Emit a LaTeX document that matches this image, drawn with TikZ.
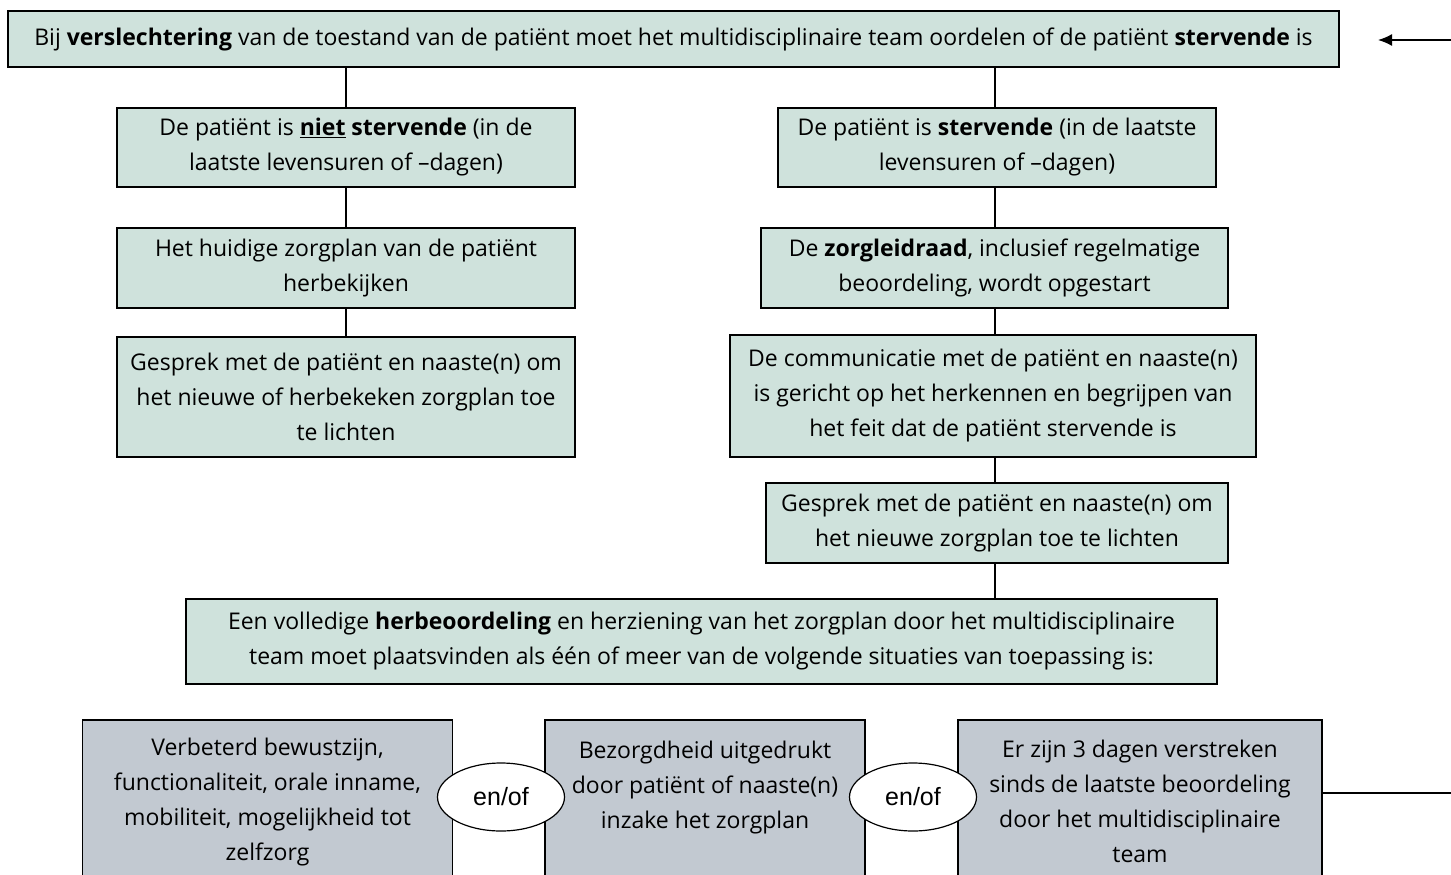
\documentclass[tikz,border=0pt]{standalone}
\usepackage{fontspec}
\setmainfont{Open Sans}
\newfontfamily\ellfont{Liberation Sans}
\usetikzlibrary{arrows.meta,shapes.geometric}
\definecolor{boxgreen}{RGB}{207,226,220}
\definecolor{boxgrey}{RGB}{194,201,209}
\tikzset{
  gbox/.style={draw=black, line width=1.6pt, fill=boxgreen, align=center, inner sep=0pt,
    font=\fontsize{23}{35}\selectfont},
  sbox/.style={draw=black, line width=1.6pt, fill=boxgrey, align=center, inner sep=0pt,
    font=\fontsize{23}{35}\selectfont},
  andor/.style={draw=black, line width=1.2pt, fill=white, ellipse, inner sep=0pt,
    minimum width=127pt, minimum height=68pt, font=\ellfont\fontsize{25}{28}\selectfont},
  conn/.style={draw=black, line width=1.6pt},
}
\begin{document}
\begin{tikzpicture}[x=1pt,y=-1pt]
\useasboundingbox (0,0) rectangle (1451,875);
\node[gbox, minimum width=1331pt, minimum height=56pt] (top) at (673.5,39)
  {Bij \textbf{verslechtering} van de toestand van de patiënt moet het multidisciplinaire team oordelen of de patiënt \textbf{stervende} is};
\node[gbox, minimum width=458pt, minimum height=79pt] (L1) at (346,147.5)
  {De patiënt is \underline{\textbf{niet}} \textbf{stervende} (in de\\laatste levensuren of –dagen)};
\node[gbox, minimum width=458pt, minimum height=80pt] (L2) at (346,268)
  {Het huidige zorgplan van de patiënt\\herbekijken};
\node[gbox, minimum width=458pt, minimum height=120pt] (L3) at (346,397)
  {Gesprek met de patiënt en naaste(n) om\\het nieuwe of herbekeken zorgplan toe\\te lichten};
\node[gbox, minimum width=438pt, minimum height=79pt] (R1) at (997,147.5)
  {De patiënt is \textbf{stervende} (in de laatste\\levensuren of –dagen)};
\node[gbox, minimum width=467pt, minimum height=80pt] (R2) at (994.5,268)
  {De \textbf{zorgleidraad}, inclusief regelmatige\\beoordeling, wordt opgestart};
\node[gbox, minimum width=526pt, minimum height=122pt] (R3) at (993,396)
  {De communicatie met de patiënt en naaste(n)\\is gericht op het herkennen en begrijpen van\\het feit dat de patiënt stervende is};
\node[gbox, minimum width=462pt, minimum height=80pt] (R4) at (997,523)
  {Gesprek met de patiënt en naaste(n) om\\het nieuwe zorgplan toe te lichten};
\node[gbox, minimum width=1031pt, minimum height=85pt] (H) at (701.5,641.5)
  {Een volledige \textbf{herbeoordeling} en herziening van het zorgplan door het multidisciplinaire\\team moet plaatsvinden als één of meer van de volgende situaties van toepassing is:};
\node[sbox, minimum width=370pt, minimum height=164pt, anchor=north] (A) at (267.5,719)
  {Verbeterd bewustzijn,\\functionaliteit, orale inname,\\mobiliteit, mogelijkheid tot\\zelfzorg};
\node[sbox, minimum width=320pt, minimum height=164pt, anchor=north] (B) at (705,719)
  {Bezorgdheid uitgedrukt\\door patiënt of naaste(n)\\inzake het zorgplan\\\mbox{}};
\node[sbox, minimum width=364pt, minimum height=164pt, anchor=north] (C) at (1140,719)
  {Er zijn 3 dagen verstreken\\sinds de laatste beoordeling\\door het multidisciplinaire\\team};
\node[andor] (E1) at (501,797) {en/of};
\node[andor] (E2) at (913,797) {en/of};
\coordinate (lx) at (346,0);
\coordinate (rx) at (995,0);
\draw[conn] (lx |- top.south) -- (lx |- L1.north);
\draw[conn] (lx |- L1.south) -- (lx |- L2.north);
\draw[conn] (lx |- L2.south) -- (lx |- L3.north);
\draw[conn] (rx |- top.south) -- (rx |- R1.north);
\draw[conn] (rx |- R1.south) -- (rx |- R2.north);
\draw[conn] (rx |- R2.south) -- (rx |- R3.north);
\draw[conn] (rx |- R3.south) -- (rx |- R4.north);
\draw[conn] (rx |- R4.south) -- (rx |- H.north);
\coordinate (arrS) at (1460,40);
\coordinate (arrE) at (1378,40);
\draw[conn, -{Latex[length=14pt,width=12pt]}] (arrS) -- (arrE);
\coordinate (outR) at (1460,793);
\draw[conn] (C.east |- outR) -- (outR);
\end{tikzpicture}
\end{document}
